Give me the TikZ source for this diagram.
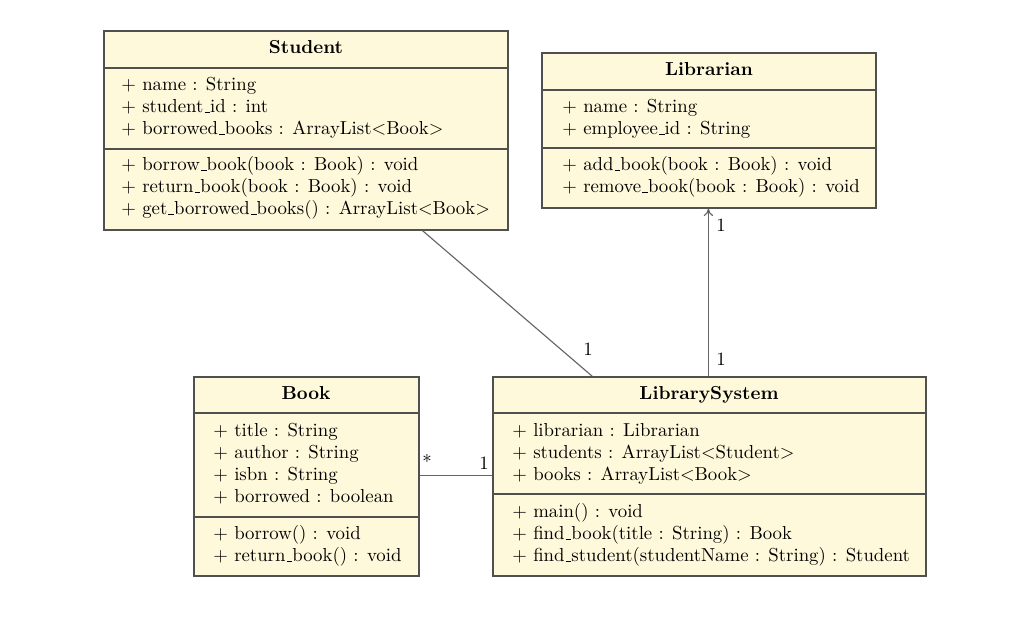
\documentclass[tikz,border=0pt]{standalone}
\usetikzlibrary{fit,calc,arrows.meta}
\definecolor{classfill}{RGB}{255,249,219}
\definecolor{classline}{RGB}{80,80,80}
\definecolor{connline}{RGB}{100,100,100}
\newcommand{\us}{\leavevmode\kern.06em\vbox{\hrule width.3em}}
\tikzset{
  classbox/.style={draw=classline, line width=0.6pt, fill=classfill, inner sep=0pt},
  sepline/.style={draw=classline, line width=0.6pt},
  ctitle/.style={font=\bfseries, inner sep=0pt, text height=7pt, text depth=2pt},
  member/.style={anchor=west, inner sep=0pt, text height=7pt, text depth=2pt},
  assoc/.style={draw=connline, line width=0.6pt},
  mult/.style={inner sep=0pt}
}
\begin{document}
\begin{tikzpicture}[x=0.532pt, y=-0.532pt]
\useasboundingbox (0,0) rectangle (1015,633);

% ---------- Student ----------
\node[classbox, fit={(104,31) (508,230)}] (student) {};
\draw[sepline] (104,68) -- (508,68);
\draw[sepline] (104,149) -- (508,149);
\node[ctitle] (studentT) at (306,49) {Student};
\node[member] (s1) at (121,86) {+ name : String};
\node[member] (s2) at (121,108) {+ student\us id : int};
\node[member] (s3) at (121,130) {+ borrowed\us books : ArrayList$<$Book$>$};
\node[member] (s4) at (121,166) {+ borrow\us book(book : Book) : void};
\node[member] (s5) at (121,188) {+ return\us book(book : Book) : void};
\node[member] (s6) at (121,210) {+ get\us borrowed\us books() : ArrayList$<$Book$>$};

% ---------- Librarian ----------
\node[classbox, fit={(542,53) (876,208)}] (librarian) {};
\draw[sepline] (542,90) -- (876,90);
\draw[sepline] (542,148) -- (876,148);
\node[ctitle] (librarianT) at (709,71) {Librarian};
\node[member] (l1) at (562,108) {+ name : String};
\node[member] (l2) at (562,130) {+ employee\us id : String};
\node[member] (l3) at (562,166) {+ add\us book(book : Book) : void};
\node[member] (l4) at (562,188) {+ remove\us book(book : Book) : void};

% ---------- Book ----------
\node[classbox, fit={(194,377) (419,576)}] (book) {};
\draw[sepline] (194,413) -- (419,413);
\draw[sepline] (194,517) -- (419,517);
\node[ctitle] (bookT) at (306,395) {Book};
\node[member] (b1) at (213,432) {+ title : String};
\node[member] (b2) at (213,454) {+ author : String};
\node[member] (b3) at (213,476) {+ isbn : String};
\node[member] (b4) at (213,498) {+ borrowed : boolean};
\node[member] (b5) at (213,535) {+ borrow() : void};
\node[member] (b6) at (213,557) {+ return\us book() : void};

% ---------- LibrarySystem ----------
\node[classbox, fit={(493,377) (926,576)}] (ls) {};
\draw[sepline] (493,413) -- (926,413);
\draw[sepline] (493,494) -- (926,494);
\node[ctitle] (lsT) at (709,395) {LibrarySystem};
\node[member] (ls1) at (512,432) {+ librarian : Librarian};
\node[member] (ls2) at (512,454) {+ students : ArrayList$<$Student$>$};
\node[member] (ls3) at (512,476) {+ books : ArrayList$<$Book$>$};
\node[member] (ls4) at (512,513) {+ main() : void};
\node[member] (ls5) at (512,535) {+ find\us book(title : String) : Book};
\node[member] (ls6) at (512,557) {+ find\us student(studentName : String) : Student};

% ---------- Connectors ----------
\draw[assoc] ($(student.south west)+(319,0)$) -- ($(ls.north west)+(100,0)$);
\node[mult] (m1) at (588,349) {1};

\draw[assoc, -{To[length=4pt,width=5pt]}] ($(ls.north west)+(216,0)$) -- ($(librarian.south west)+(167,0)$);
\node[mult] (m2) at (721,225) {1};
\node[mult] (m3) at (721,359) {1};

\draw[assoc] ($(book.north east)+(0,99)$) -- ($(ls.north west)+(0,99)$);
\node[mult] (m4) at (427,461) {*};
\node[mult] (m5) at (484,463) {1};
\end{tikzpicture}
\end{document}
